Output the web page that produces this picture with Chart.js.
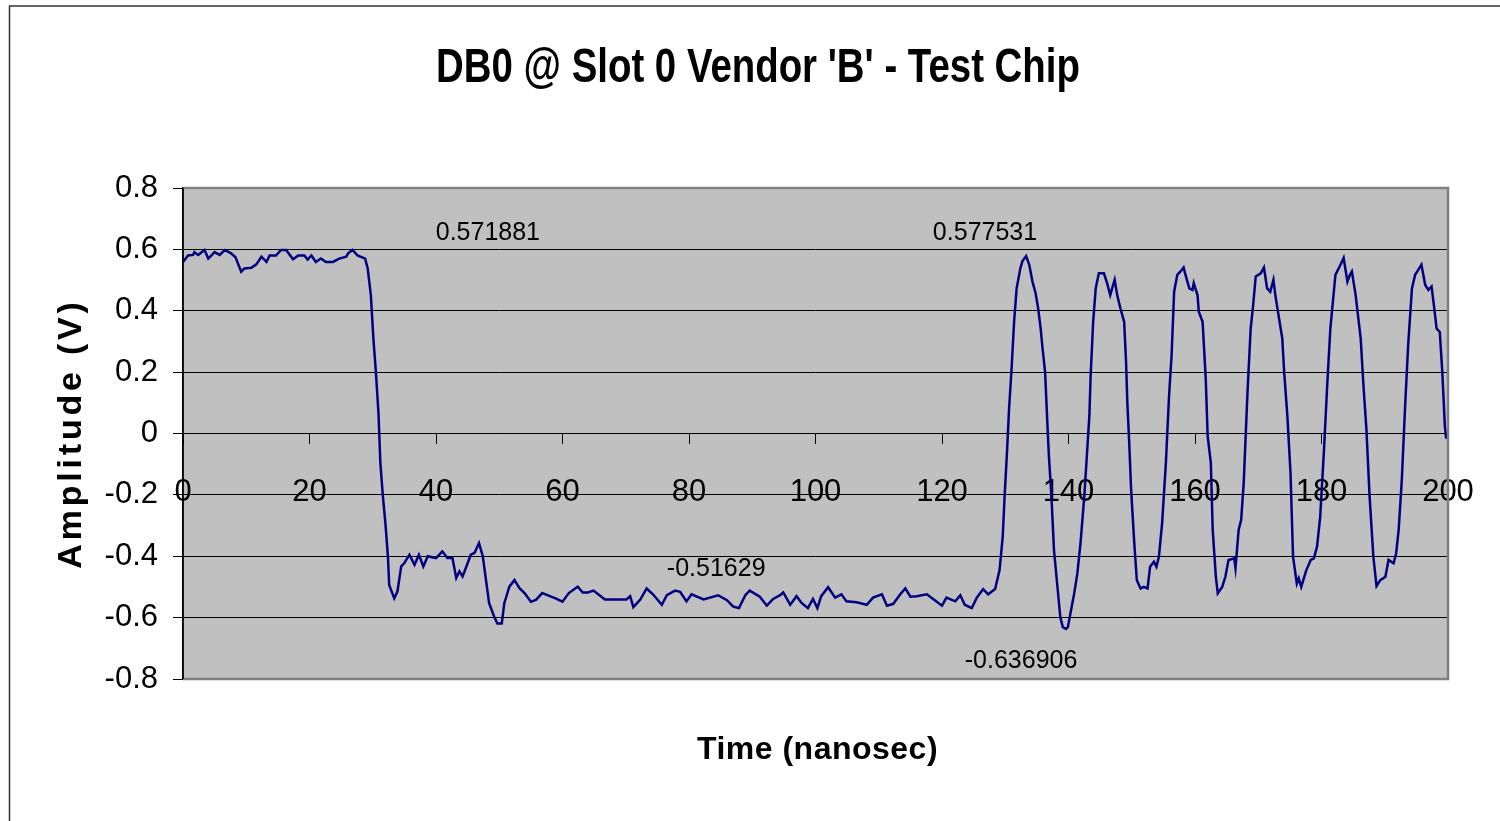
<!DOCTYPE html>
<html>
<head>
<meta charset="utf-8">
<script src="https://cdn.jsdelivr.net/npm/chart.js@4/dist/chart.umd.min.js"></script>
<style>
  html, body { margin: 0; padding: 0; background: #fff; }
</style>
</head>
<body>
<canvas id="waveChart" width="1500" height="821"></canvas>
<script>
// sample times (ns) and amplitudes (V)
var timeNs = [
  0, 0.8, 1.6, 1.8, 2.4, 3.4, 4, 5, 5.8, 6.6, 7.6, 8.3, 9.2, 9.7, 10.8, 11.6, 12.4, 13.2, 13.7, 14.7,
  15.5, 16.3, 17.4, 18.2, 19.2, 19.7, 20.3, 21, 21.8, 22.6, 23.7, 24.7, 25.8, 26.1, 26.8, 27.6, 28.8,
  29.2, 29.7, 30.1, 30.5, 30.9, 31.2, 31.6, 32, 32.4, 32.6, 33.4, 33.9, 34.5, 35, 35.8, 36.6, 37.3,
  38, 38.7, 40, 41, 41.8, 42.6, 43.2, 43.7, 44.2, 44.7, 45.5, 46.1, 46.8, 47.4, 47.9, 48.4, 49.2,
  49.7, 50.4, 50.8, 51.6, 52.4, 53.2, 54, 55, 55.8, 56.8, 57.9, 58.9, 60, 61, 62.4, 63.2, 64,
  64.9, 66.7, 70.1, 70.7, 71.2, 72.3, 73.3, 74.3, 75.7, 76.5, 77.8, 78.6, 79.6, 80.4, 82.3, 84.6,
  86, 87, 87.9, 88.9, 89.6, 91.2, 92.3, 93.3, 94.4, 94.9, 96, 97, 97.8, 98.8, 99.6, 100.3, 100.9,
  102, 103.1, 104.1, 104.9, 106.5, 108.1, 109.1, 110.5, 111.3, 112.3, 113.4, 114.2, 115, 116,
  117.6, 118.7, 120, 120.7, 122.1, 122.9, 123.6, 124.7, 125.5, 126.5, 127.3, 128.4,
  129.1, 129.6, 129.9, 130.3, 130.6, 131, 131.4, 131.8, 132.4, 132.7, 133.3, 133.8, 134.3, 134.8,
  135.2, 135.6, 135.9, 136.3, 136.7, 136.9, 137.3, 137.7, 138.3, 138.7, 139.1, 139.6, 139.9,
  140.4, 140.9, 141.4, 141.9, 142.5, 142.9, 143.3, 143.5, 143.9, 144.3, 144.8, 145.6, 146.1,
  146.6, 146.9, 147.3, 147.7, 148.2, 148.8, 149.1, 149.3, 149.6, 149.9, 150.4, 150.8, 151.4,
  151.9, 152.5, 152.9, 153.5, 153.9, 154.3, 154.8, 155.4, 155.9, 156.3, 156.7, 157.2, 157.7,
  158.2, 158.5, 159.1, 159.6, 159.8, 160.4, 160.6, 161.2, 161.7, 162, 162.5, 162.8, 163.3,
  163.6, 164.3, 164.8, 165.3, 166.2, 166.4, 166.9, 167.3, 167.7, 168.3, 168.8, 169.2, 169.6,
  170.4, 170.9, 171.4, 171.9, 172.4, 172.7, 173.2, 173.8, 174.1, 174.6, 175.1, 175.5, 176.1,
  176.4, 176.8, 177.2, 177.6, 178.3, 178.8, 179.3, 179.8, 180.4, 180.9, 181.4, 181.7, 182.2,
  183, 183.5, 184.1, 184.5, 184.8, 185.4, 185.7, 186.2, 186.6, 187.1, 187.6, 188.2, 188.7,
  189.3, 190.1, 190.6, 191.4, 191.8, 192.2, 192.7, 193.2, 193.7, 194.3, 194.8, 195.3, 195.8,
  196.4, 196.9, 197.4, 197.7, 198.2, 198.7, 199.1, 199.5, 199.7, 200
];
var amplitudeV = [
  0.559, 0.580, 0.582, 0.591, 0.582, 0.598, 0.570, 0.591, 0.582, 0.598, 0.587, 0.574, 0.527, 0.538, 0.540, 0.551, 0.576, 0.559, 0.580, 0.580,
  0.598, 0.598, 0.568, 0.580, 0.580, 0.567, 0.580, 0.559, 0.570, 0.559, 0.559, 0.570, 0.576, 0.587, 0.598, 0.580, 0.570,
  0.538, 0.451, 0.309, 0.199, 0.069, -0.095, -0.204, -0.292, -0.401, -0.494, -0.537, -0.515, -0.433, -0.422, -0.395, -0.428, -0.395,
  -0.433, -0.400, -0.406, -0.384, -0.406, -0.406, -0.471, -0.449, -0.466, -0.439, -0.395, -0.389, -0.357, -0.400, -0.477, -0.553, -0.597,
  -0.619, -0.619, -0.553, -0.499, -0.477, -0.504, -0.520, -0.548, -0.542, -0.520, -0.529, -0.537, -0.548, -0.520, -0.499, -0.518, -0.518,
  -0.512, -0.541, -0.541, -0.530, -0.566, -0.541, -0.505, -0.524, -0.558, -0.527, -0.512, -0.516, -0.547, -0.524, -0.541, -0.527,
  -0.543, -0.564, -0.569, -0.527, -0.512, -0.532, -0.561, -0.539, -0.527, -0.518, -0.558, -0.530, -0.552, -0.569, -0.539, -0.569, -0.530,
  -0.501, -0.535, -0.524, -0.547, -0.550, -0.558, -0.535, -0.524, -0.561, -0.555, -0.524, -0.505, -0.532, -0.530,
  -0.524, -0.541, -0.561, -0.535, -0.547, -0.527, -0.558, -0.569, -0.535, -0.507, -0.524, -0.507,
  -0.445, -0.336, -0.204, -0.051, 0.080, 0.211, 0.364, 0.473, 0.539, 0.561, 0.578, 0.550, 0.495, 0.457,
  0.408, 0.342, 0.277, 0.200, 0.014, -0.073, -0.204, -0.379, -0.510, -0.598, -0.631, -0.637, -0.631,
  -0.576, -0.521, -0.456, -0.357, -0.204, -0.073, 0.058, 0.189, 0.364, 0.473, 0.522, 0.522, 0.490,
  0.451, 0.473, 0.501, 0.451, 0.408, 0.364, 0.233, 0.102, -0.030, -0.183, -0.357, -0.478, -0.505,
  -0.500, -0.505, -0.434, -0.418, -0.434, -0.401, -0.292, -0.095, 0.124, 0.255, 0.462, 0.517, 0.528,
  0.541, 0.517, 0.473, 0.468, 0.490, 0.451, 0.397, 0.364, 0.178, -0.008, -0.095, -0.314, -0.467,
  -0.521, -0.500, -0.467, -0.412, -0.407, -0.439, -0.314, -0.281, -0.161, 0.134, 0.342, 0.419, 0.512,
  0.522, 0.541, 0.473, 0.462, 0.501, 0.451, 0.386, 0.309, 0.200, 0.058, -0.128, -0.401, -0.489,
  -0.472, -0.500, -0.472, -0.445, -0.412, -0.407, -0.368, -0.270, -0.051, 0.156, 0.342, 0.408, 0.517,
  0.550, 0.572, 0.495, 0.517, 0.528, 0.451, 0.397, 0.309, 0.167, 0.014, -0.204, -0.401, -0.497,
  -0.478, -0.467, -0.412, -0.423, -0.390, -0.314, -0.150, 0.080, 0.287, 0.473, 0.517, 0.533, 0.550,
  0.484, 0.468, 0.479, 0.430, 0.342, 0.331, 0.200, 0.025, -0.013, -0.015
];

var xTickValues = [0, 20, 40, 60, 80, 100, 120, 140, 160, 180, 200];
var yTickValues = [-0.8, -0.6, -0.4, -0.2, 0, 0.2, 0.4, 0.6, 0.8];
var yTickLabels = ['-0.8', '-0.6', '-0.4', '-0.2', '0', '0.2', '0.4', '0.6', '0.8'];

// data labels as shown on the sheet, with the (time, volts) spot they sit at
var markerText = ['0.571881', '0.577531', '-0.51629', '-0.636906'];
var markerTime = [48.2, 126.8, 84.3, 132.5];
var markerVolts = [0.652, 0.652, -0.443, -0.743];

var chartTitle = "DB0 @ Slot 0 Vendor 'B' - Test Chip";
var xTitle = 'Time (nanosec)';
var yTitle = 'Amplitude (V)';

var points = timeNs.map(function(t, i) {
  return { x: t, y: amplitudeV[i] };
});

// background, outer frame, plot fill, titles and data labels
var framePlugin = {
  id: 'framePlugin',
  beforeDraw: function(chart) {
    var c = chart.ctx;
    var a = chart.chartArea;
    c.save();
    c.fillStyle = '#ffffff';
    c.fillRect(0, 0, chart.width, chart.height);
    c.strokeStyle = '#333333';
    c.lineWidth = 1.5;
    c.beginPath();
    c.moveTo(9.5, chart.height + 2);
    c.lineTo(9.5, 6);
    c.lineTo(chart.width + 2, 6);
    c.stroke();
    c.fillStyle = '#c0c0c0';
    c.fillRect(a.left, a.top, a.right - a.left, a.bottom - a.top);
    c.restore();
  },
  afterDraw: function(chart) {
    var c = chart.ctx;
    var a = chart.chartArea;
    var xs = chart.scales.x;
    var ys = chart.scales.y;
    c.save();
    // grey plot border (top, right, bottom)
    c.strokeStyle = '#808080';
    c.lineWidth = 2.5;
    c.beginPath();
    c.moveTo(a.left, a.top);
    c.lineTo(a.right, a.top);
    c.lineTo(a.right, a.bottom);
    c.lineTo(a.left, a.bottom);
    c.stroke();
    c.strokeStyle = '#000000';
    c.lineWidth = 1.5;
    c.beginPath();
    c.moveTo(a.left, a.top);
    c.lineTo(a.left, a.bottom);
    c.stroke();

    // data labels
    c.fillStyle = '#000';
    c.font = '25px "Liberation Sans", Arial, sans-serif';
    c.textAlign = 'center';
    c.textBaseline = 'middle';
    for (var i = 0; i < markerText.length; i++) {
      c.fillText(markerText[i], xs.getPixelForValue(markerTime[i]), ys.getPixelForValue(markerVolts[i]));
    }

    // x axis title
    c.font = 'bold 32px "Liberation Sans", Arial, sans-serif';
    c.letterSpacing = '0.5px';
    c.fillText(xTitle, (a.left + a.right) / 2 + 2, a.bottom + 71);

    // main title, condensed bold
    c.save();
    c.letterSpacing = '0px';
    c.textBaseline = 'alphabetic';
    c.font = 'bold 48px "Liberation Sans", Arial, sans-serif';
    c.translate(758, 82);
    c.scale(0.8, 1);
    c.fillText(chartTitle, 0, 0);
    c.restore();

    // y axis title
    c.translate(72, (a.top + a.bottom) / 2);
    c.rotate(-Math.PI / 2);
    c.font = 'bold 34px "Liberation Sans", Arial, sans-serif';
    c.letterSpacing = '3.8px';
    c.fillText(yTitle, 0, 0);
    c.restore();
  }
};

var ctx = document.getElementById('waveChart').getContext('2d');
var chart = new Chart(ctx, {
  type: 'line',
  data: {
    datasets: [{
      label: 'DB0',
      data: points,
      borderColor: '#000080',
      borderWidth: 2.5,
      pointRadius: 0,
      tension: 0,
      fill: false
    }]
  },
  options: {
    responsive: false,
    animation: false,
    devicePixelRatio: 1,
    layout: { padding: { left: 68, right: 52, top: 188, bottom: 142 } },
    plugins: {
      legend: { display: false },
      tooltip: { enabled: false },
      title: { display: false }
    },
    scales: {
      x: {
        type: 'linear',
        min: 0,
        max: 200,
        position: { y: 0 },
        afterBuildTicks: function(scale) {
          scale.ticks = xTickValues.map(function(v) { return { value: v }; });
        },
        afterFit: function(scale) {
          scale.paddingLeft = 0;
          scale.paddingRight = 0;
        },
        ticks: {
          autoSkip: false,
          maxRotation: 0,
          padding: 30,
          color: '#000',
          font: { family: '"Liberation Sans", Arial, sans-serif', size: 31 },
          callback: function(v) { return String(v); }
        },
        grid: { drawOnChartArea: false, drawTicks: true, tickLength: 10, color: '#000', lineWidth: 1 },
        border: { display: true, color: '#000', width: 1 }
      },
      y: {
        min: -0.8,
        max: 0.8,
        afterBuildTicks: function(scale) {
          scale.ticks = yTickValues.map(function(v) { return { value: v }; });
        },
        afterFit: function(scale) { scale.width = 115; },
        ticks: {
          padding: 15,
          color: '#000',
          font: { family: '"Liberation Sans", Arial, sans-serif', size: 31 },
          callback: function(v, i) { return yTickLabels[i]; }
        },
        grid: { color: '#000', lineWidth: 1, tickLength: 10, drawTicks: true },
        border: { display: true, color: '#000', width: 1.5 }
      }
    }
  },
  plugins: [framePlugin]
});
</script>
</body>
</html>
